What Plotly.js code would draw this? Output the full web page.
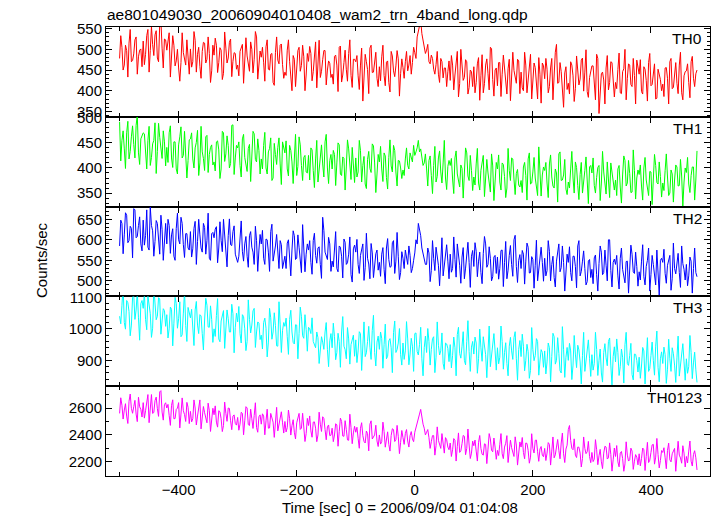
<!DOCTYPE html>
<html>
<head>
<meta charset="utf-8">
<script src="https://cdn.plot.ly/plotly-3.0.1.min.js"></script>
<style>html,body{margin:0;padding:0;background:#fff;}</style>
</head>
<body>
<div id="plot" style="width:717px;height:516px;"></div>
<script>
// Time bins (seconds relative to 2006/09/04 01:04:08)
const tStart = -500;
const tStep = 2;

const panelNames = ["TH0", "TH1", "TH2", "TH3", "TH0123"];
const chartTitle = "ae801049030_20060904010408_wam2_trn_4band_long.qdp";
const xTitle = "Time [sec] 0 = 2006/09/04 01:04:08";
const yTitle = "Counts/sec";

const th0 = [
478,533,505,450,462,510,497,433,515,548,470,473,489,523,530,440,482,498,501,458,
520,463,488,533,548,445,497,555,512,485,535,545,479,470,560,570,503,455,525,523,
498,515,540,433,486,533,510,460,472,500,455,423,468,540,492,475,462,523,478,440,
501,457,470,543,522,445,488,505,459,430,495,517,515,467,476,530,490,420,448,510,
486,527,510,444,468,504,498,427,442,542,503,467,479,517,525,434,471,492,490,452,
462,436,495,506,512,418,470,528,484,458,447,518,500,443,476,543,530,428,458,496,
481,505,469,423,506,523,452,450,488,490,420,413,492,530,474,465,510,513,463,430,
445,437,498,523,470,425,400,485,476,410,452,497,505,447,461,510,482,400,438,490,
471,507,490,424,446,484,518,407,459,522,432,447,475,497,497,414,450,472,466,432,
440,416,483,486,462,398,505,508,421,438,468,498,452,423,490,523,437,408,476,476,
470,485,436,403,462,503,375,430,488,470,451,393,503,510,444,445,465,493,430,410,
458,424,482,510,437,412,469,472,420,397,495,484,448,434,460,497,477,387,441,477,
456,430,470,495,448,462,485,440,468,505,492,478,530,548,556,570,538,522,515,490,
498,512,470,465,486,478,452,440,463,495,440,420,478,470,431,455,455,410,446,472,
425,485,462,402,438,462,495,385,417,500,450,425,432,475,470,392,408,450,446,410,
458,395,420,465,480,377,436,487,395,417,462,477,441,402,505,502,427,387,450,455,
412,468,468,386,440,486,455,413,392,453,476,376,430,493,449,428,418,476,472,393,
445,407,400,493,462,395,433,455,488,380,421,467,456,417,380,480,440,370,467,460,
429,478,452,395,410,455,478,378,437,493,512,418,420,468,446,385,360,443,458,403,
418,392,470,462,436,374,405,484,452,414,428,474,479,399,445,499,398,384,432,452,
460,460,415,378,488,478,345,405,441,445,426,368,455,485,402,420,470,468,433,385,
420,405,451,491,395,393,446,453,500,378,430,465,462,415,410,478,437,368,474,458,
440,475,398,392,458,452,425,375,468,490,412,415,445,465,380,382,452,440,427,400,
416,386,455,456,430,368,470,478,405,408,440,468,418,393,462,493,395,378,436,446,
448,465,420,383,470,483,430,410,441,450
];

const th1 = [
492,414,455,474,438,399,470,493,418,433,462,484,447,420,485,505,430,407,458,465,
470,468,428,398,455,483,405,421,448,455,490,389,433,489,461,433,419,474,452,404,
441,411,470,484,420,401,452,452,398,388,446,462,482,420,425,473,437,380,415,456,
458,470,418,400,440,451,475,385,410,483,432,419,395,462,465,391,427,441,446,406,
412,394,452,454,436,379,398,473,470,413,428,464,445,400,409,485,486,387,420,445,
440,452,405,382,458,467,421,405,393,439,447,373,430,473,468,417,412,458,435,388,
418,398,445,471,400,388,432,439,460,375,380,449,427,407,441,460,408,367,452,443,
430,454,398,384,445,435,412,369,425,467,385,403,462,446,405,375,421,425,392,390,
425,376,440,436,395,361,418,455,372,395,430,446,408,382,452,467,400,369,415,427,
398,435,427,365,410,450,446,388,385,422,419,356,402,456,438,400,377,441,412,371,
420,382,392,455,435,372,405,423,368,359,417,433,399,391,448,444,410,351,388,427,
412,443,398,373,430,424,381,358,421,456,404,392,445,435,392,364,415,414,400,379,
396,385,418,440,405,398,430,418,412,445,425,432,440,455,432,438,422,405,410,428,
398,364,415,424,385,349,405,443,372,383,420,434,392,370,410,455,380,357,403,415,
405,419,378,349,420,434,388,372,362,406,399,340,386,440,430,384,375,425,395,355,
382,366,408,439,370,356,395,407,425,343,376,417,390,375,352,428,404,335,385,411,
398,426,372,356,410,407,383,341,360,439,395,375,420,418,378,347,389,397,366,362,
375,351,402,411,385,336,418,430,368,370,392,421,380,357,345,442,398,344,386,402,
395,411,370,341,408,426,382,364,360,398,390,332,428,432,375,376,386,417,358,347,
372,360,398,433,380,350,412,401,365,337,387,411,350,369,395,422,378,329,402,405,
390,420,365,350,381,401,405,335,370,433,392,369,348,412,385,341,410,391,373,356,
376,345,398,405,362,330,386,424,415,364,370,415,389,351,352,436,395,338,380,396,
387,406,364,336,400,421,376,359,345,393,392,327,381,427,405,371,368,412,383,342,
370,355,395,428,382,345,350,396,388,332,376,406,402,364,365,417,384,324,372,400,
391,421,368,351,385,402,402,336,376,434
];

const th2 = [
585,648,640,566,612,666,660,593,598,633,628,556,676,673,605,608,635,656,590,573,
648,587,610,673,582,575,680,635,622,560,596,647,640,597,565,660,625,550,608,640,
590,650,635,567,612,627,560,550,628,665,600,590,655,640,588,557,615,615,580,575,
620,558,578,628,645,540,596,650,612,580,570,640,630,565,598,665,555,550,615,618,
605,626,632,544,580,644,598,571,650,611,575,534,610,651,588,586,620,634,565,551,
545,560,600,646,572,548,590,608,560,533,610,620,582,570,540,633,598,523,575,613,
590,623,555,540,602,600,570,523,620,638,548,563,585,613,566,530,598,588,530,548,
560,530,592,600,548,512,575,622,610,552,555,612,582,537,520,637,588,522,565,590,
575,598,545,516,598,616,562,543,580,583,540,506,655,623,570,558,552,606,590,523,
548,534,575,620,530,522,585,582,560,507,602,594,540,544,565,607,515,497,578,587,
570,601,540,518,562,578,590,501,532,616,555,541,505,591,568,508,548,566,575,526,
545,511,565,581,528,493,580,603,552,533,535,593,598,518,548,618,560,503,520,571,
555,530,575,560,540,585,562,520,530,550,568,600,590,640,622,610,580,565,552,540,
540,580,568,498,525,598,555,525,582,565,538,488,560,605,512,540,575,588,548,505,
565,521,530,607,552,509,590,569,538,494,558,581,505,531,570,594,545,484,560,574,
535,593,572,510,548,570,520,493,566,608,590,533,540,583,555,500,510,558,562,518,
558,504,530,574,575,486,545,596,505,526,562,586,540,511,600,611,535,496,550,564,
530,574,565,492,548,592,582,519,520,559,552,482,538,599,500,534,560,582,545,499,
555,512,525,598,572,500,540,560,508,485,548,572,590,522,532,585,545,475,518,565,
545,583,520,500,560,560,535,483,585,598,512,523,548,573,530,490,498,548,552,508,
528,493,556,563,515,475,542,585,570,515,520,575,538,500,600,600,525,485,545,553,
540,562,512,480,555,580,528,507,495,547,548,470,530,587,565,522,518,570,535,487,
522,502,548,588,510,490,535,550,580,475,515,562,540,512,490,575,528,465,550,555,
545,577,518,494,538,554,562,477,505,592,530,517,552,567,520,484,585,542,528,502,
540,488,512,558,548,470,530,580,520,510
];

const th3 = [
1040,1016,1075,1136,1020,999,1090,1083,1055,978,1012,1100,1108,1030,1060,1118,1035,964,1080,1090,
1065,1113,1030,997,1105,1081,1048,973,1002,1134,1072,1029,1040,1099,1095,983,1025,1064,1058,1008,
1045,971,1000,1069,1062,946,1018,1100,1080,1002,1032,1086,975,981,1050,1121,1010,960,1068,1055,
1035,1062,998,947,1060,1087,1012,985,1045,1041,985,933,1028,1097,1075,1006,1005,1073,1030,957,
1000,976,1042,1096,968,959,1025,1043,1058,938,1010,1060,1032,990,990,1078,1048,924,1005,1050,
1022,1071,985,955,1045,1039,1000,931,960,1092,1030,987,1012,1057,1065,941,990,1022,1018,966,
980,936,1020,1034,1002,911,958,1065,1035,967,990,1051,1010,946,945,1086,1015,925,995,1020,
1008,1034,975,919,1030,1059,990,957,952,1013,1012,905,985,1069,1040,978,970,1045,998,929,
1005,1000,985,1035,960,948,940,990,972,890,925,975,958,935,990,1020,935,880,962,985,
940,1018,975,902,925,986,960,878,990,1039,945,934,905,1004,968,888,950,969,980,913,
965,893,930,991,985,868,948,1022,912,924,960,1008,942,903,995,1043,925,882,958,977,
935,990,970,875,950,1015,905,913,962,969,940,861,988,1025,925,934,955,1001,918,885,
955,903,930,1023,968,886,920,970,945,865,985,987,928,917,950,1005,905,851,940,977,
925,1001,960,885,935,969,975,861,910,1022,948,917,930,987,890,871,955,952,938,896,
950,876,915,974,940,851,982,1005,922,907,945,991,900,886,960,1026,928,865,942,960,
920,974,955,859,905,999,940,897,975,953,918,845,938,1009,880,918,950,985,930,869,
940,889,910,1009,960,872,925,956,890,851,945,973,930,903,972,991,905,837,935,963,
912,983,945,867,900,951,928,843,868,1004,935,899,915,969,960,853,898,934,925,878,
930,857,895,955,940,832,912,986,975,888,900,972,922,867,860,1007,935,846,910,941,
900,954,930,839,885,979,920,877,948,933,895,825,915,989,865,898,930,965,905,849,
918,869,890,989,935,852,900,936,860,831,925,953,908,883,960,971,885,822,912,943,
895,968,925,852,880,936,910,828,950,989,890,884,915,954,855,838,920,919,900,863,
910,843,882,941,930,825,898,972,865,874,915,958,900,853,945,993,878,832,905,927,
890,942,918,827,872,967,905,865,940,921,885,830,908,977,850,886,912,953,895,837,
905,859,880,979,925,842,892,926,870,830
];

const th0123 = [
2560,2676,2620,2518,2585,2632,2540,2485,2650,2704,2598,2561,2610,2657,2555,2499,2680,2609,2590,2533,
2640,2525,2580,2658,2700,2491,2615,2700,2560,2567,2655,2681,2595,2538,2720,2729,2570,2510,2625,2639,
2600,2627,2545,2471,2620,2661,2520,2522,2590,2599,2640,2452,2555,2675,2580,2551,2500,2642,2605,2484,
2575,2497,2520,2660,2600,2474,2540,2588,2660,2445,2510,2611,2565,2516,2490,2636,2580,2426,2545,2598,
2550,2616,2495,2458,2580,2572,2520,2425,2470,2644,2560,2501,2600,2597,2505,2439,2540,2549,2485,2473,
2530,2435,2480,2568,2560,2401,2505,2610,2600,2477,2470,2591,2520,2448,2545,2639,2455,2420,2535,2549,
2480,2557,2540,2401,2505,2591,2450,2452,2560,2529,2495,2382,2515,2605,2430,2481,2530,2572,2490,2414,
2500,2422,2455,2585,2520,2399,2470,2513,2420,2370,2490,2536,2560,2441,2450,2561,2480,2351,2410,2523,
2470,2541,2430,2383,2495,2497,2450,2350,2400,2569,2480,2426,2535,2522,2440,2364,2460,2474,2395,2398,
2450,2350,2400,2483,2475,2316,2425,2525,2500,2392,2390,2506,2440,2363,2360,2554,2455,2335,2415,2464,
2420,2457,2375,2301,2450,2491,2395,2352,2340,2429,2410,2282,2480,2505,2370,2381,2400,2472,2355,2314,
2400,2332,2350,2495,2425,2309,2375,2423,2330,2280,2395,2446,2440,2351,2365,2471,2390,2261,2345,2433,
2380,2330,2410,2440,2355,2310,2395,2425,2370,2350,2420,2460,2480,2530,2555,2590,2510,2480,2450,2400,
2420,2440,2380,2300,2350,2395,2395,2250,2320,2460,2360,2325,2300,2410,2345,2265,2380,2365,2310,2290,
2340,2240,2290,2373,2360,2206,2315,2415,2270,2282,2335,2396,2390,2253,2300,2444,2325,2225,2265,2354,
2320,2362,2280,2206,2345,2396,2300,2257,2250,2334,2330,2187,2295,2410,2370,2286,2275,2377,2310,2219,
2285,2247,2330,2410,2260,2224,2310,2338,2395,2195,2280,2361,2305,2266,2240,2386,2325,2176,2290,2348,
2310,2381,2270,2223,2340,2337,2285,2190,2235,2409,2300,2266,2360,2362,2275,2204,2295,2314,2250,2238,
2300,2210,2265,2343,2330,2176,2280,2385,2230,2252,2310,2366,2285,2223,2340,2414,2260,2195,2295,2324,
2440,2470,2360,2300,2290,2371,2250,2232,2310,2309,2265,2162,2225,2385,2300,2261,2275,2352,2240,2194,
2270,2202,2220,2365,2290,2179,2245,2293,2200,2150,2265,2316,2310,2221,2230,2341,2255,2131,2215,2303,
2240,2321,2200,2163,2265,2277,2225,2130,2185,2349,2250,2206,2215,2302,2280,2144,2205,2254,2235,2178,
2260,2170,2225,2303,2290,2136,2240,2345,2195,2212,2270,2326,2330,2183,2235,2374,2255,2155,2210,2284,
2270,2305,2230,2149,2285,2339,2215,2200,2260,2277,2300,2130,2225,2353,2250,2229,2190,2320,2265,2162,
2240,2192,2280,2355,2205,2169,2255,2283,2230,2140
];

const series = [th0, th1, th2, th3, th0123];
const colors = ["#ff0000", "#00ff00", "#0000ff", "#00ffff", "#ff00ff"];
const yRanges = [[337, 554], [323, 502], [462, 681], [818, 1103], [2095, 2762]];
const yDticks = [50, 50, 50, 100, 200];
const yMinor = [10, 10, 10, 20, 100];

const FONT = "Liberation Sans, Arial, Helvetica, sans-serif";
const traces = [];
const layout = {
  width: 717, height: 516,
  margin: {l: 106, r: 7, t: 27, b: 40},
  paper_bgcolor: "#fff", plot_bgcolor: "#fff",
  showlegend: false,
  font: {family: FONT, size: 15, color: "#000"},
  title: {
    text: chartTitle,
    xref: "container", yref: "container",
    x: 107 / 717, xanchor: "left",
    y: 1 - 14.5 / 516, yanchor: "middle",
    font: {family: FONT, size: 15.5, color: "#000"}
  },
  annotations: []
};

const n = series.length;
for (let k = 0; k < n; k++) {
  const sfx = k === 0 ? "" : String(k + 1);
  const ys = series[k];
  const times = [];
  for (let i = 0; i < ys.length; i++) times.push(tStart + tStep * i);
  traces.push({
    x: times, y: ys, type: "scatter", mode: "lines",
    xaxis: "x" + sfx, yaxis: "y" + sfx,
    line: {color: colors[k], width: 1},
    hoverinfo: "skip"
  });
  const top = 1 - k / n, bot = 1 - (k + 1) / n;
  layout["xaxis" + sfx] = {
    domain: [0, 1], anchor: "y" + sfx,
    range: [-523, 500], tick0: 0, dtick: 200,
    ticks: "inside", ticklen: 6, tickwidth: 1, tickcolor: "#000",
    minor: {dtick: 100, ticks: "inside", ticklen: 4, tickwidth: 1, tickcolor: "#000"},
    showline: true, linecolor: "#000", linewidth: 1, mirror: "allticks",
    showgrid: false, zeroline: false,
    showticklabels: k === n - 1,
    tickfont: {family: FONT, size: 15, color: "#000"},
    fixedrange: true
  };
  layout["yaxis" + sfx] = {
    domain: [bot, top], anchor: "x" + sfx,
    range: yRanges[k], tick0: 0, dtick: yDticks[k],
    ticks: "inside", ticklen: 6, tickwidth: 1, tickcolor: "#000",
    minor: {dtick: yMinor[k], ticks: "inside", ticklen: 3, tickwidth: 1, tickcolor: "#000"},
    showline: true, linecolor: "#000", linewidth: 1, mirror: "allticks",
    showgrid: false, zeroline: false,
    tickfont: {family: FONT, size: 15, color: "#000"},
    fixedrange: true
  };
  layout.annotations.push({
    text: panelNames[k], showarrow: false,
    xref: "paper", x: 1, xanchor: "right", xshift: -6,
    yref: "y" + sfx + " domain", y: 1, yanchor: "top", yshift: -1,
    font: {family: FONT, size: 15.5, color: "#000"}
  });
}

layout.annotations.push({
  text: xTitle, showarrow: false,
  xref: "paper", x: (520 - 106) / 604, xanchor: "right",
  yref: "paper", y: (476 - 507) / 449, yanchor: "middle",
  font: {family: FONT, size: 15, color: "#000"}
});
layout.annotations.push({
  text: yTitle, showarrow: false, textangle: -90,
  xref: "paper", x: (41 - 106) / 604, xanchor: "center",
  yref: "paper", y: (476 - 260) / 449, yanchor: "middle",
  font: {family: FONT, size: 15, color: "#000"}
});

Plotly.newPlot("plot", traces, layout, {staticPlot: true, displayModeBar: false});
</script>
</body>
</html>
